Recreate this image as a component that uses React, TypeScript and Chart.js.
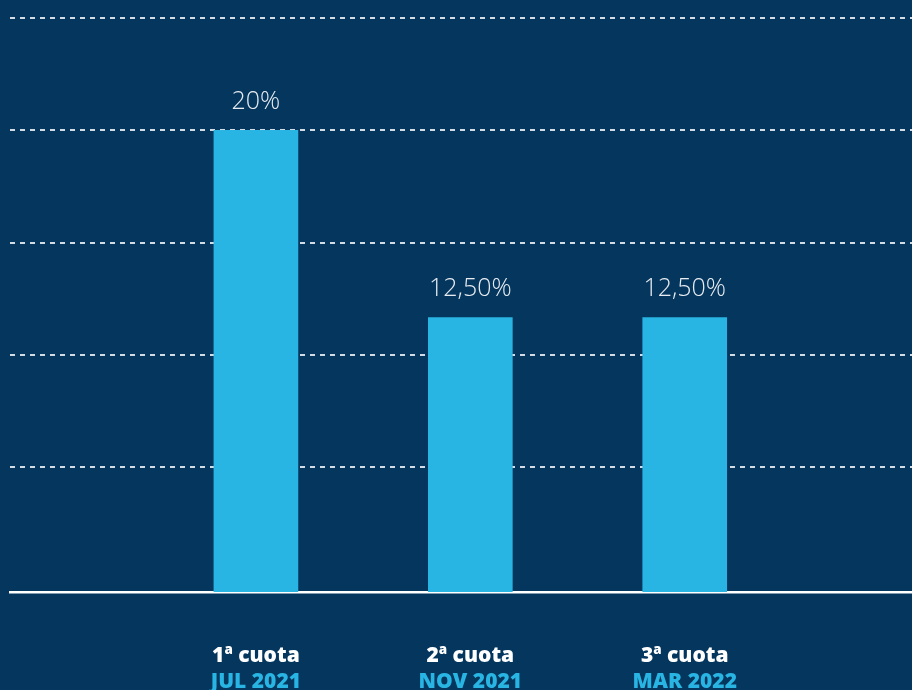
import React, { useEffect, useRef } from "react";
import { Chart, registerables } from "chart.js";

Chart.register(...registerables);

const cuotas = ["1ª cuota", "2ª cuota", "3ª cuota"];
const fechas = ["JUL 2021", "NOV 2021", "MAR 2022"];
const valores = [20, 12.5, 12.5];
const etiquetas = ["20%", "12,50%", "12,50%"];
const posiciones = [1, 2, 3];
const gridTicks = [1.5, 6.5, 11, 15.5, 20, 24.5];

const BG = "#04365e";
const BAR = "#29b5e3";

const labelsPlugin = {
  id: "labelsPlugin",
  afterDatasetsDraw(chart: any) {
    const ctx = chart.ctx;
    const meta = chart.getDatasetMeta(0);
    ctx.save();
    ctx.textAlign = "center";
    ctx.textBaseline = "alphabetic";
    ctx.fillStyle = "#e8ecf1";
    ctx.font = "300 25px 'Open Sans', Lato, sans-serif";
    meta.data.forEach((bar: any, i: number) => {
      ctx.fillText(etiquetas[i], bar.x, bar.y - 21);
    });
    const xs = chart.scales.x;
    posiciones.forEach((p, i) => {
      const x = xs.getPixelForValue(p);
      ctx.font = "800 21px 'Open Sans', Lato, sans-serif";
      ctx.fillStyle = "#ffffff";
      ctx.fillText(cuotas[i], x, 662);
      ctx.fillStyle = BAR;
      ctx.fillText(fechas[i], x, 688);
    });
    ctx.restore();
  },
};

export default function App() {
  const ref = useRef<HTMLCanvasElement>(null);
  useEffect(() => {
    if (!ref.current) return;
    const chart = new Chart(ref.current, {
      type: "bar",
      data: {
        datasets: [
          {
            data: posiciones.map((p, i) => ({ x: p, y: valores[i] })),
            backgroundColor: BAR,
            borderWidth: 0,
            barThickness: 84,
          },
        ],
      },
      options: {
        responsive: false,
        animation: false,
        layout: { padding: { left: 10, right: 0, top: 18, bottom: 98 } },
        plugins: { legend: { display: false }, tooltip: { enabled: false } },
        scales: {
          x: {
            type: "linear",
            offset: false,
            min: -0.147,
            max: 4.06,
            ticks: { display: false },
            grid: { display: false, drawTicks: false, offset: false },
            border: { display: true, color: "#ffffff", width: 2.5 },
          },
          y: {
            min: 1.5,
            max: 24.5,
            afterBuildTicks: (scale: any) => {
              scale.ticks = gridTicks.map((v) => ({ value: v }));
            },
            ticks: { display: false },
            grid: {
              drawTicks: false,
              color: (c: any) => (c.tick && c.tick.value === 1.5 ? "rgba(0,0,0,0)" : "#d3dbe4"),
              lineWidth: 2,
            },
            border: { display: false, dash: [5, 5] },
          },
        },
      } as any,
      plugins: [labelsPlugin],
    });
    return () => chart.destroy();
  }, []);
  return (
    <div style={{ position: "fixed", left: 0, top: 0, width: 912, height: 690, background: BG }}>
      <canvas ref={ref} width={912} height={690} style={{ display: "block" }} />
    </div>
  );
}
